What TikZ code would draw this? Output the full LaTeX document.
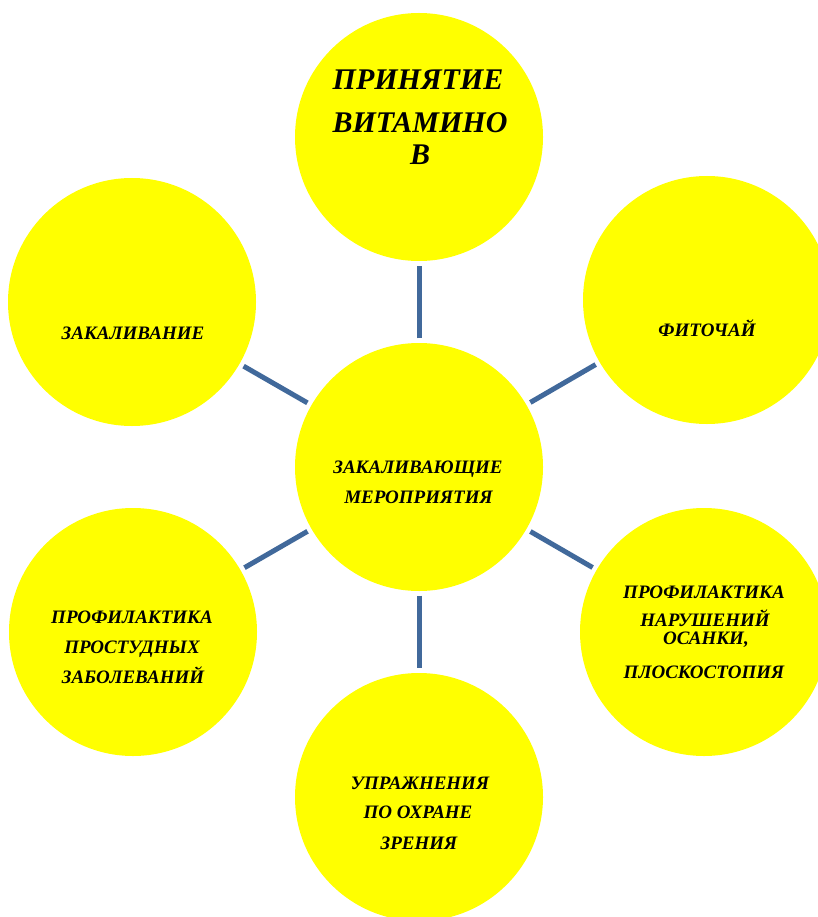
\documentclass[tikz,border=0pt]{standalone}
\usepackage{fontspec}
\setmainfont{Liberation Serif}
\definecolor{bubble}{RGB}{255,255,0}
\definecolor{linkblue}{RGB}{65,105,155}
\begin{document}
\begin{tikzpicture}[x=1pt,y=-1pt,
  bub/.style={circle, fill=bubble, draw=none, minimum size=248pt, inner sep=0pt},
  conn/.style={draw=linkblue, line width=5pt, shorten <=4.5pt, shorten >=4.5pt},
  sm/.style={anchor=base, inner sep=0pt, font=\fontsize{19}{21}\selectfont\bfseries\itshape},
  big/.style={anchor=base, inner sep=0pt, font=\fontsize{30}{33}\selectfont\bfseries\itshape}]
\useasboundingbox (0,0) rectangle (818,917);
% circles
\node[bub] (c)  at (419,467) {};
\node[bub] (t)  at (419,137) {};
\node[bub] (lt) at (132,302) {};
\node[bub] (rt) at (707,300) {};
\node[bub] (lb) at (133,632) {};
\node[bub] (rb) at (704,632) {};
\node[bub] (b)  at (419,797) {};
% connectors
\draw[conn] (c) -- (t);
\draw[conn] (c) -- (lt);
\draw[conn] (c) -- (rt);
\draw[conn] (c) -- (lb);
\draw[conn] (c) -- (rb);
\draw[conn] (c) -- (b);
% texts
\node[big] (t1) at (418,90) {ПРИНЯТИЕ};
\node[big] (t2) at (420,133) {ВИТАМИНО};
\node[big] (t3) at (420,165) {В};
\node[sm] (c1) at (418,473) {ЗАКАЛИВАЮЩИЕ};
\node[sm] (c2) at (418.5,503) {МЕРОПРИЯТИЯ};
\node[sm] (lt1) at (133,339) {ЗАКАЛИВАНИЕ};
\node[sm] (rt1) at (707,336) {ФИТОЧАЙ};
\node[sm] (rb1) at (704,598) {ПРОФИЛАКТИКА};
\node[sm] (rb2) at (705,626) {НАРУШЕНИЙ};
\node[sm] (rb3) at (706,644) {ОСАНКИ,};
\node[sm] (rb4) at (704,678) {ПЛОСКОСТОПИЯ};
\node[sm] (lb1) at (132,623) {ПРОФИЛАКТИКА};
\node[sm] (lb2) at (132,653) {ПРОСТУДНЫХ};
\node[sm] (lb3) at (133,683) {ЗАБОЛЕВАНИЙ};
\node[sm] (b1) at (420,789) {УПРАЖНЕНИЯ};
\node[sm] (b2) at (418,818) {ПО ОХРАНЕ};
\node[sm] (b3) at (419,849) {ЗРЕНИЯ};
\end{tikzpicture}
\end{document}
